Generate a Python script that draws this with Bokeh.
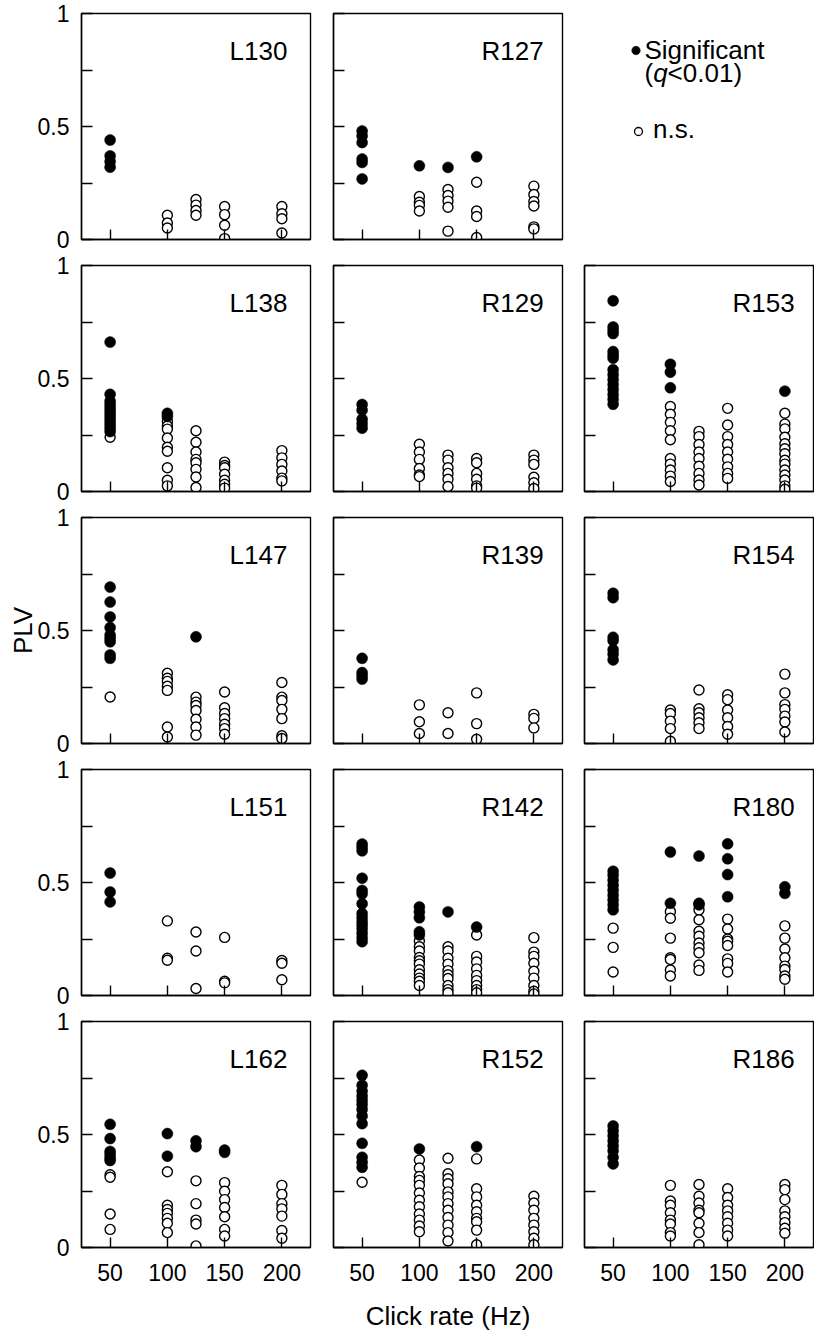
from bokeh.plotting import figure
from bokeh.layouts import row, column
from bokeh.models import Range1d, FixedTicker, Label
from bokeh.embed import file_html
from bokeh.resources import INLINE

FONT = "Liberation Sans"

# ---------------- data (PLV per unit, by click rate in Hz) ----------------
rates = [50, 100, 125, 150, 200]
x_tick_values = [50, 100, 150, 200]
y_tick_values = [0, 0.25, 0.5, 0.75, 1]
y_tick_labels = {0: "0", 0.25: "", 0.5: "0.5", 0.75: "", 1: "1"}

L130_sig = {50: [0.44, 0.37, 0.345, 0.32]}
L130_ns = {100: [0.107, 0.073, 0.051], 125: [0.177, 0.152, 0.128, 0.107],
           150: [0.146, 0.110, 0.063, 0.004], 200: [0.146, 0.114, 0.092, 0.029]}

R127_sig = {50: [0.48, 0.458, 0.429, 0.356, 0.341, 0.268], 100: [0.326], 125: [0.319], 150: [0.366]}
R127_ns = {100: [0.190, 0.165, 0.151, 0.126], 125: [0.221, 0.195, 0.170, 0.143, 0.037],
           150: [0.253, 0.126, 0.102, 0.009], 200: [0.236, 0.199, 0.168, 0.148, 0.056, 0.047]}

L138_sig = {50: [0.661, 0.430, 0.40, 0.385, 0.37, 0.355, 0.34, 0.325, 0.31, 0.295, 0.28, 0.265],
            100: [0.346, 0.332]}
L138_ns = {50: [0.24], 100: [0.31, 0.29, 0.276, 0.237, 0.196, 0.178, 0.105, 0.050, 0.025],
           125: [0.269, 0.218, 0.175, 0.142, 0.127, 0.098, 0.064, 0.018],
           150: [0.130, 0.115, 0.105, 0.076, 0.050, 0.032, 0.015],
           200: [0.181, 0.149, 0.120, 0.091, 0.059, 0.047]}

R129_sig = {50: [0.385, 0.36, 0.32, 0.30, 0.28]}
R129_ns = {100: [0.209, 0.175, 0.142, 0.102, 0.073, 0.066], 125: [0.161, 0.139, 0.105, 0.080, 0.054, 0.022],
           150: [0.146, 0.127, 0.080, 0.054, 0.025, 0.015], 200: [0.161, 0.139, 0.120, 0.063, 0.039, 0.013]}

R153_sig = {50: [0.844, 0.728, 0.713, 0.699, 0.619, 0.604, 0.590, 0.539, 0.517, 0.495, 0.473, 0.451,
                 0.429, 0.408, 0.386],
            100: [0.563, 0.528, 0.459], 200: [0.444]}
R153_ns = {100: [0.376, 0.342, 0.306, 0.269, 0.229, 0.146, 0.121, 0.095, 0.068, 0.044],
           125: [0.266, 0.243, 0.208, 0.175, 0.146, 0.112, 0.080, 0.051, 0.029],
           150: [0.368, 0.294, 0.243, 0.208, 0.175, 0.143, 0.109, 0.080, 0.058],
           200: [0.346, 0.298, 0.277, 0.240, 0.211, 0.189, 0.167, 0.138, 0.121, 0.095, 0.073, 0.051,
                 0.025, 0.010]}

L147_sig = {50: [0.692, 0.626, 0.560, 0.513, 0.480, 0.465, 0.450, 0.392, 0.377], 125: [0.472]}
L147_ns = {50: [0.206], 100: [0.311, 0.289, 0.275, 0.253, 0.235, 0.073, 0.029],
           125: [0.205, 0.183, 0.168, 0.146, 0.107, 0.073, 0.037],
           150: [0.228, 0.158, 0.133, 0.110, 0.085, 0.066, 0.041],
           200: [0.270, 0.205, 0.190, 0.151, 0.110, 0.034, 0.022]}

R139_sig = {50: [0.377, 0.314, 0.300, 0.285]}
R139_ns = {100: [0.171, 0.096, 0.044], 125: [0.136, 0.044], 150: [0.224, 0.088, 0.019],
           200: [0.129, 0.111, 0.069]}

R154_sig = {50: [0.665, 0.645, 0.47, 0.455, 0.415, 0.395, 0.37]}
R154_ns = {100: [0.148, 0.133, 0.099, 0.066, 0.010], 125: [0.237, 0.154, 0.136, 0.114, 0.092, 0.066],
           150: [0.216, 0.194, 0.148, 0.114, 0.075, 0.041],
           200: [0.307, 0.224, 0.172, 0.151, 0.121, 0.095, 0.051]}

L151_sig = {50: [0.542, 0.458, 0.414]}
L151_ns = {100: [0.330, 0.165, 0.156], 125: [0.281, 0.197, 0.031], 150: [0.257, 0.063, 0.056],
           200: [0.155, 0.143, 0.070]}

R142_sig = {50: [0.670, 0.655, 0.640, 0.519, 0.465, 0.450, 0.406, 0.363, 0.344, 0.326, 0.311, 0.294,
                 0.275, 0.256, 0.238],
            100: [0.392, 0.370, 0.344, 0.282, 0.268], 125: [0.370], 150: [0.303]}
R142_ns = {100: [0.241, 0.216, 0.197, 0.168, 0.154, 0.139, 0.114, 0.095, 0.077, 0.063, 0.044],
           125: [0.216, 0.197, 0.165, 0.139, 0.110, 0.092, 0.075, 0.044, 0.026, 0.012],
           150: [0.268, 0.173, 0.148, 0.118, 0.089, 0.066, 0.044, 0.026, 0.012],
           200: [0.256, 0.192, 0.173, 0.143, 0.107, 0.077, 0.044, 0.019, 0.007]}

R180_sig = {50: [0.550, 0.532, 0.510, 0.488, 0.466, 0.444, 0.423, 0.401, 0.379], 100: [0.635, 0.408],
            125: [0.617, 0.408, 0.401], 150: [0.671, 0.605, 0.535, 0.437], 200: [0.481, 0.452]}
R180_ns = {50: [0.298, 0.213, 0.104], 100: [0.371, 0.342, 0.254, 0.167, 0.159, 0.113, 0.086],
           125: [0.379, 0.335, 0.284, 0.262, 0.232, 0.211, 0.189, 0.135, 0.111],
           150: [0.338, 0.294, 0.250, 0.240, 0.221, 0.162, 0.142, 0.104],
           200: [0.308, 0.254, 0.206, 0.167, 0.130, 0.115, 0.086, 0.072]}

L162_sig = {50: [0.545, 0.482, 0.425, 0.411, 0.396, 0.385], 100: [0.504, 0.404], 125: [0.472, 0.446],
            150: [0.431, 0.421]}
L162_ns = {50: [0.322, 0.311, 0.148, 0.080], 100: [0.335, 0.187, 0.168, 0.151, 0.129, 0.107, 0.066],
           125: [0.295, 0.194, 0.121, 0.104, 0.007], 150: [0.287, 0.249, 0.212, 0.177, 0.136, 0.080, 0.051],
           200: [0.275, 0.235, 0.194, 0.171, 0.139, 0.075, 0.041]}

R152_sig = {50: [0.762, 0.718, 0.692, 0.670, 0.651, 0.633, 0.611, 0.582, 0.548, 0.461, 0.399, 0.377, 0.355],
            100: [0.436], 150: [0.446]}
R152_ns = {50: [0.289], 100: [0.387, 0.352, 0.314, 0.297, 0.275, 0.241, 0.209, 0.180, 0.148, 0.121, 0.095, 0.070],
           125: [0.395, 0.326, 0.304, 0.282, 0.246, 0.224, 0.194, 0.165, 0.133, 0.099, 0.066, 0.029],
           150: [0.392, 0.260, 0.224, 0.187, 0.158, 0.129, 0.114, 0.077, 0.012],
           200: [0.227, 0.197, 0.165, 0.129, 0.099, 0.070, 0.041, 0.012]}

R186_sig = {50: [0.538, 0.516, 0.494, 0.472, 0.450, 0.428, 0.399, 0.370]}
R186_ns = {100: [0.275, 0.206, 0.187, 0.154, 0.121, 0.104, 0.066, 0.051],
           125: [0.279, 0.227, 0.197, 0.165, 0.154, 0.107, 0.066, 0.012],
           150: [0.260, 0.221, 0.187, 0.162, 0.136, 0.107, 0.077, 0.051],
           200: [0.279, 0.256, 0.212, 0.162, 0.136, 0.110, 0.085, 0.063]}

grid_names = [
    ["L130", "R127", None],
    ["L138", "R129", "R153"],
    ["L147", "R139", "R154"],
    ["L151", "R142", "R180"],
    ["L162", "R152", "R186"],
]
panel_data = {
    "L130": (L130_sig, L130_ns), "R127": (R127_sig, R127_ns),
    "L138": (L138_sig, L138_ns), "R129": (R129_sig, R129_ns), "R153": (R153_sig, R153_ns),
    "L147": (L147_sig, L147_ns), "R139": (R139_sig, R139_ns), "R154": (R154_sig, R154_ns),
    "L151": (L151_sig, L151_ns), "R142": (R142_sig, R142_ns), "R180": (R180_sig, R180_ns),
    "L162": (L162_sig, L162_ns), "R152": (R152_sig, R152_ns), "R186": (R186_sig, R186_ns),
}

# ---------------- layout constants ----------------
FW, FH = 229, 226
LINE_W = 1.4
TICK_FONT = "23px"
TEXT_FONT = "26px"
COL_LR = [(81, 11), (12, 11), (11, 1)]
ROW_TB = [(13, 13), (13, 13), (13, 13), (13, 13), (13, 88)]


def flatten(d):
    xs, ys = [], []
    for r in rates:
        for v in d.get(r, []):
            xs.append(r)
            ys.append(v)
    return xs, ys


def base_figure(ci, ri, **kw):
    left, right = COL_LR[ci]
    top, bottom = ROW_TB[ri]
    return figure(width=left + FW + right, height=top + FH + bottom,
                  output_backend="svg", toolbar_location=None,
                  min_border_left=left, min_border_right=right,
                  min_border_top=top, min_border_bottom=bottom, **kw)


def make_panel(name, ci, ri):
    p = base_figure(ci, ri, x_range=Range1d(25, 225), y_range=Range1d(0, 1))
    p.grid.visible = False
    p.outline_line_color = "black"
    p.outline_line_width = LINE_W
    p.outline_line_alpha = 1.0

    p.xaxis.ticker = FixedTicker(ticks=x_tick_values)
    p.yaxis.ticker = FixedTicker(ticks=y_tick_values)
    for ax in p.axis:
        ax.major_tick_out = 0
        ax.minor_tick_in = 0
        ax.minor_tick_out = 0
        ax.axis_line_color = "black"
        ax.axis_line_width = LINE_W
        ax.major_tick_line_color = "black"
        ax.major_tick_line_width = LINE_W
        ax.major_label_text_font = FONT
        ax.major_label_text_font_size = TICK_FONT
        ax.major_label_text_color = "black"
    p.xaxis.major_tick_in = 10
    p.yaxis.major_tick_in = 11

    if ci == 0:
        p.yaxis.major_label_overrides = dict(y_tick_labels)
        p.yaxis.major_label_standoff = 12
    else:
        p.yaxis.major_label_overrides = {t: "" for t in y_tick_values}
        p.yaxis.major_label_standoff = 0

    if ri == 4:
        p.xaxis.major_label_standoff = 16
    else:
        p.xaxis.major_label_overrides = {t: "" for t in x_tick_values}
        p.xaxis.major_label_standoff = 0

    if name == "L147":
        p.yaxis.axis_label = "PLV"
        p.yaxis.axis_label_text_font = FONT
        p.yaxis.axis_label_text_font_size = TEXT_FONT
        p.yaxis.axis_label_text_font_style = "normal"
        p.yaxis.axis_label_text_color = "black"
        p.yaxis.axis_label_standoff = -3

    if name == "R152":
        p.xaxis.axis_label = "Click rate (Hz)"
        p.xaxis.axis_label_text_font = FONT
        p.xaxis.axis_label_text_font_size = TEXT_FONT
        p.xaxis.axis_label_text_font_style = "normal"
        p.xaxis.axis_label_text_color = "black"
        p.xaxis.axis_label_standoff = 17

    sig, ns = panel_data[name]
    xn, yn = flatten(ns)
    xs, ys = flatten(sig)
    p.scatter(xn, yn, marker="circle", size=10, fill_color="white",
              line_color="black", line_width=1.4)
    p.scatter(xs, ys, marker="circle", size=11, fill_color="black",
              line_color="black", line_width=0.5)

    p.add_layout(Label(x=25 + 148 / FW * 200, y=1 - 37 / FH, text=name,
                       text_align="left", text_baseline="middle",
                       text_font=FONT, text_font_size=TEXT_FONT, text_color="black"))
    return p


def make_legend_panel(ci, ri):
    # frame measured in pixels (x from frame left, y from frame bottom)
    p = base_figure(ci, ri, x_range=Range1d(0, FW), y_range=Range1d(0, FH),
                    x_axis_type=None, y_axis_type=None)
    p.outline_line_color = None
    p.grid.visible = False
    p.scatter(x=[51.5], y=[FH - 37], marker="circle", size=8.5, fill_color="black",
              line_color="black", line_width=0.5)
    p.scatter(x=[54], y=[FH - 118], marker="circle", size=8, fill_color="white",
              line_color="black", line_width=1.3)

    def lab(x, y, text, style="normal"):
        p.add_layout(Label(x=x, y=y, text=text, text_font=FONT, text_font_size=TEXT_FONT,
                           text_font_style=style, text_baseline="middle", text_align="left",
                           text_color="black"))

    lab(60, FH - 36.5, "Significant")
    lab(60, FH - 59, "(")
    lab(60 + 0.333 * 26, FH - 59, "q", "italic")
    lab(60 + 0.333 * 26 + 0.556 * 26, FH - 59, "<0.01)")
    lab(68.5, FH - 115, "n.s.")
    return p


rows = []
for ri, names in enumerate(grid_names):
    figs = []
    for ci, name in enumerate(names):
        if name is None:
            figs.append(make_legend_panel(ci, ri))
        else:
            figs.append(make_panel(name, ci, ri))
    rows.append(row(*figs, spacing=0))
layout = column(*rows, spacing=0)

open("out.html", "w").write(file_html(layout, INLINE, title="PLV by click rate"))
